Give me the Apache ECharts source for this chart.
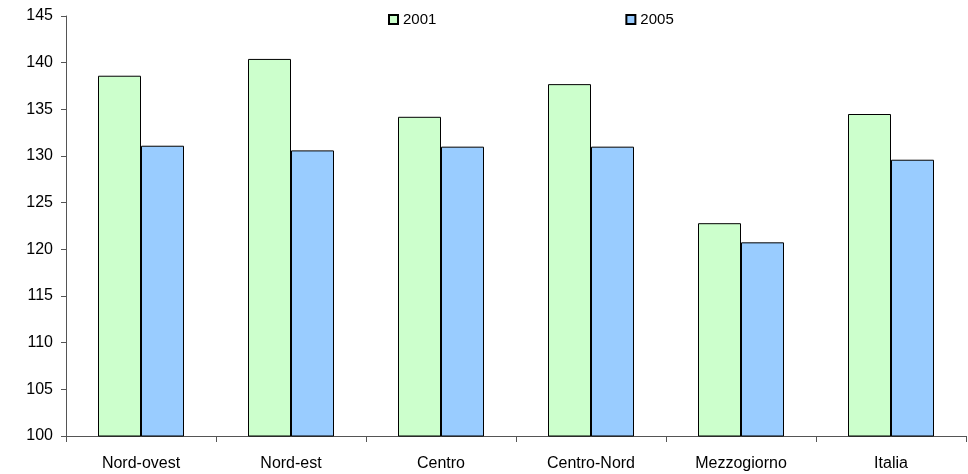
<!DOCTYPE html>
<html>
<head>
<meta charset="utf-8">
<script src="https://cdn.jsdelivr.net/npm/echarts@6/dist/echarts.min.js"></script>
<style>
html, body { margin: 0; padding: 0; background: #fff; }
#container { width: 968px; height: 474px; }
</style>
</head>
<body>
<div id="container"></div>
<script>
var categories = ['Nord-ovest', 'Nord-est', 'Centro', 'Centro-Nord', 'Mezzogiorno', 'Italia'];
var values2001 = [138.6, 140.4, 134.2, 137.7, 122.8, 134.5];
var values2005 = [131.1, 130.6, 131.0, 131.0, 120.75, 129.6];

var dom = document.getElementById("container");
var myChart = echarts.init(dom);
var font = 'Liberation Sans, Arial, sans-serif';

var option = {
    animation: false,
    legend: {
        data: ['2001', '2005'],
        left: 383,
        top: 7,
        itemWidth: 9,
        itemHeight: 9,
        itemGap: 189,
        icon: 'rect',
        textStyle: { fontFamily: font, fontSize: 15, color: '#000' }
    },
    grid: {
        left: 66,
        right: 2,
        top: 16,
        bottom: 38,
        containLabel: false
    },
    xAxis: {
        type: 'category',
        data: categories,
        axisLine: { lineStyle: { color: '#555', width: 1 } },
        axisTick: { show: true, length: 6, lineStyle: { color: '#555' } },
        axisLabel: { fontFamily: font, fontSize: 16, color: '#000', margin: 20 }
    },
    yAxis: {
        type: 'value',
        min: 100,
        max: 145,
        interval: 5,
        splitLine: { show: false },
        axisLine: { show: true, lineStyle: { color: '#555', width: 1 } },
        axisTick: { show: true, length: 5, lineStyle: { color: '#555' } },
        axisLabel: { fontFamily: font, fontSize: 16, color: '#000', margin: 13 }
    },
    series: [
        {
            name: '2001',
            type: 'bar',
            data: values2001,
            barWidth: 43,
            barGap: '0%',
            itemStyle: { color: '#CCFFCC', borderColor: '#000', borderWidth: 1 }
        },
        {
            name: '2005',
            type: 'bar',
            data: values2005,
            barWidth: 43,
            barGap: '0%',
            itemStyle: { color: '#99CCFF', borderColor: '#000', borderWidth: 1 }
        }
    ]
};
myChart.setOption(option, true);
</script>
</body>
</html>
